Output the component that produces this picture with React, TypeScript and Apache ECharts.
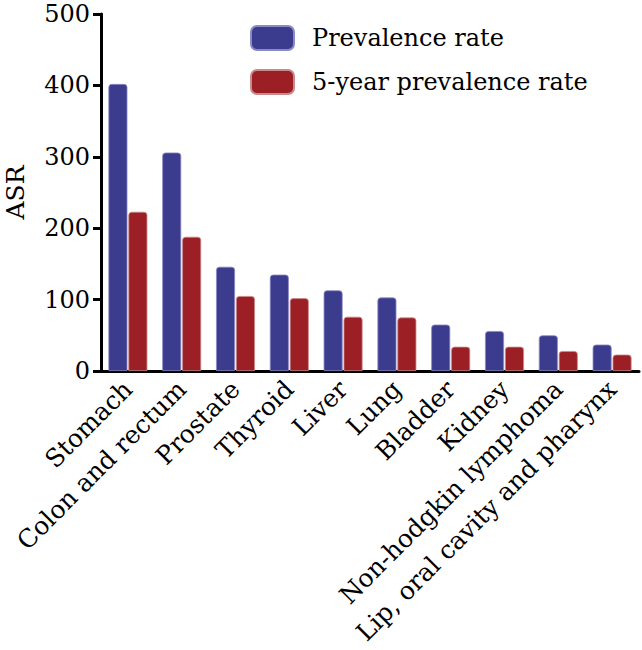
import React, { useEffect, useRef } from "react";
import * as echarts from "echarts";

const categories = [
  "Stomach",
  "Colon and rectum",
  "Prostate",
  "Thyroid",
  "Liver",
  "Lung",
  "Bladder",
  "Kidney",
  "Non-hodgkin lymphoma",
  "Lip, oral cavity and pharynx",
];
const prevalence = [402, 306, 146, 135, 113, 103, 65, 56, 50, 37];
const fiveYear = [223, 188, 105, 102, 76, 75, 34, 34, 28, 23];
const yTicks = { min: 0, max: 500, interval: 100 };

const FONT = "DejaVu Serif";

export default function App() {
  const ref = useRef<HTMLDivElement>(null);
  useEffect(() => {
    document.body.style.margin = "0";
    const chart = echarts.init(ref.current!, null, { renderer: "svg" });
    chart.setOption({
      animation: false,
      textStyle: { fontFamily: FONT },
      legend: {
        left: 245,
        top: 20,
        orient: "vertical",
        itemWidth: 43,
        itemHeight: 24,
        itemGap: 18,
        icon: "roundRect",
        textStyle: { fontFamily: FONT, fontSize: 24, color: "#000", padding: [0, 0, 0, 13] },
        data: ["Prevalence rate", "5-year prevalence rate"],
      },
      grid: { left: 101, right: 3, top: 14, bottom: 279, containLabel: false, outerBoundsMode: "none" },
      xAxis: {
        type: "category",
        data: categories,
        axisLine: { lineStyle: { color: "#000", width: 3 } },
        axisTick: { alignWithLabel: true, length: 8, lineStyle: { width: 3, color: "#000" } },
        axisLabel: {
          rotate: 45,
          interval: 0,
          fontFamily: FONT,
          fontSize: 25,
          color: "#000",
          margin: 14,
        },
      },
      yAxis: {
        type: "value",
        min: yTicks.min,
        max: yTicks.max,
        interval: yTicks.interval,
        name: "ASR",
        nameLocation: "middle",
        nameGap: 73,
        nameTextStyle: { fontFamily: FONT, fontSize: 25, color: "#000" },
        splitLine: { show: false },
        axisLine: { show: true, lineStyle: { color: "#000", width: 3 } },
        axisTick: { show: true, length: 8, lineStyle: { width: 3, color: "#000" } },
        axisLabel: { fontFamily: FONT, fontSize: 24, color: "#000", margin: 11 },
      },
      series: [
        {
          name: "Prevalence rate",
          type: "bar",
          data: prevalence,
          barWidth: 19,
          barGap: "5%",
          itemStyle: { color: "#3c3c8f", borderColor: "#8a8ac4", borderWidth: 0.8, borderRadius: [3, 3, 0, 0] },
        },
        {
          name: "5-year prevalence rate",
          type: "bar",
          data: fiveYear,
          barWidth: 19,
          itemStyle: { color: "#9b1f25", borderColor: "#c98a8c", borderWidth: 0.8, borderRadius: [3, 3, 0, 0] },
        },
      ],
    });
    return () => chart.dispose();
  }, []);
  return <div ref={ref} style={{ width: 642, height: 650 }} />;
}
